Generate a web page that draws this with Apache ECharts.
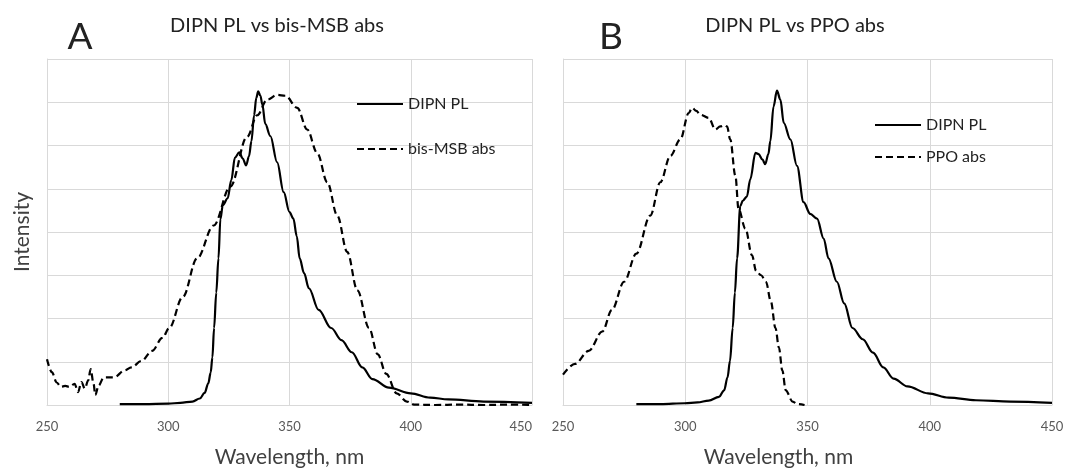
<!DOCTYPE html>
<html>
<head>
<meta charset="utf-8">
<script src="https://cdn.jsdelivr.net/npm/echarts@6/dist/echarts.min.js"></script>
<style>html,body{margin:0;padding:0;background:#fff}#c{width:1069px;height:473px}</style>
</head>
<body>
<div id="c"></div>
<script>
// ---- data (wavelength nm, intensity in arbitrary grid units) ----
const xTicks = [250, 300, 350, 400, 450];
const panelTitles = ['DIPN PL vs bis-MSB abs', 'DIPN PL vs PPO abs'];
const panelLetters = ['A', 'B'];
const seriesNames = ['DIPN PL', 'bis-MSB abs', 'DIPN PL', 'PPO abs'];

const leftPL = [[280,0.02],[290,0.02],[300,0.03],[305,0.05],[310,0.08],[313,0.15],[315,0.28],[316.5,0.5],[317.5,0.75],[318.2,1.1],[318.9,1.78],[319.8,2.6],[320.7,3.39],[321.5,4.3],[322.5,4.62],[324.5,4.78],[326,5.2],[327.5,5.72],[329.3,5.84],[330.7,5.7],[332.1,5.54],[333.3,5.75],[334.3,6.1],[335.4,6.7],[336.3,7.1],[337.1,7.25],[338,7.15],[338.8,6.95],[340,6.5],[342.1,6.22],[344.9,5.61],[347.6,4.92],[350,4.46],[351.6,4.31],[353,3.9],[354.2,3.39],[356,3.05],[358,2.7],[362,2.2],[367.2,1.78],[371.4,1.5],[375.7,1.22],[380,0.87],[384.2,0.6],[391,0.4],[400,0.27],[408,0.17],[415.5,0.13],[430,0.08],[450,0.05]];

const leftMSB = [[250,1.06],[252,0.76],[254,0.52],[255.7,0.42],[257.5,0.44],[259.2,0.42],[261.4,0.49],[262.8,0.3],[264.2,0.53],[265.6,0.38],[267,0.57],[268,0.83],[269.2,0.49],[269.9,0.23],[271.3,0.45],[273.4,0.64],[277.7,0.64],[282,0.8],[284.8,0.87],[289,1.02],[293.3,1.25],[297.6,1.55],[300.4,1.78],[306,2.5],[311.9,3.39],[318.7,4.15],[325.6,5.05],[332.5,6.2],[336.7,6.7],[340.8,7.06],[344.9,7.17],[348.3,7.15],[353.2,6.87],[357.3,6.37],[361.4,5.83],[365.6,5.15],[369.7,4.38],[373.8,3.54],[378,2.65],[382.8,1.78],[386.4,1.17],[389.9,0.72],[394.2,0.27],[398.4,0.08],[401.3,0.01],[410,0],[420,0.01],[430,0],[440,0.01],[450,0]];

const rightPL = [[280,0.02],[290,0.02],[299.8,0.04],[305,0.06],[309.6,0.1],[313.8,0.19],[315.9,0.34],[317.3,0.64],[318.3,1.02],[319.4,1.78],[320.3,2.6],[321.2,3.39],[322.5,4.6],[323.5,4.72],[325.2,4.82],[326.6,5.22],[328.7,5.83],[330,5.8],[331.5,5.68],[332.7,5.57],[334,5.8],[334.8,6.1],[336.1,6.9],[337.5,7.27],[338.9,7.06],[340.3,6.52],[343,6.14],[345.7,5.53],[348.4,4.69],[351.1,4.42],[353.9,4.31],[356.6,3.85],[358.6,3.39],[362,2.85],[365,2.35],[368.4,1.78],[372.6,1.52],[376.8,1.21],[381,0.87],[385.2,0.61],[390.9,0.43],[399.3,0.27],[407.7,0.17],[418.9,0.11],[433,0.08],[450,0.05]];

const rightPPO = [[250,0.7],[254.9,0.95],[260.5,1.25],[266.1,1.7],[270,2.2],[275,2.85],[280,3.5],[285.7,4.38],[289.8,5.15],[293.9,5.76],[298,6.14],[301.4,6.75],[302.8,6.87],[304.5,6.8],[306.2,6.71],[309.6,6.64],[312.3,6.37],[314.3,6.44],[316,6.47],[317.1,6.44],[318.4,6.14],[320.5,5.3],[321.8,4.53],[324.6,4.08],[327.3,3.46],[329,3.1],[331,3.0],[333,2.85],[335,2.4],[336.9,1.78],[338.3,1.33],[339.7,0.8],[341.1,0.34],[343.9,0.08],[346,0.02],[348.8,0]];

// ---- chart ----
const FONT = 'Lato, "Open Sans", sans-serif';
const grey = '#d9d9d9';
const chart = echarts.init(document.getElementById('c'), null, {renderer: 'canvas'});

function xAxis(gi, shiftName) {
  return {
    type: 'value', gridIndex: gi, min: xTicks[0], max: xTicks[xTicks.length - 1], interval: 50,
    axisLine: {show: true, lineStyle: {color: grey, width: 1}},
    axisTick: {show: false},
    splitLine: {show: true, lineStyle: {color: grey, width: 1}},
    axisLabel: {color: '#595959', fontSize: 13, fontFamily: FONT, margin: 15, alignMaxLabel: gi === 0 ? 'right' : 'center'},
    name: 'Wavelength, nm', nameLocation: 'middle', nameGap: 42,
    nameTextStyle: {color: '#404040', fontSize: 21, fontFamily: FONT, padding: [0, shiftName, 0, 0]}
  };
}
function yAxis(gi, withName) {
  return {
    type: 'value', gridIndex: gi, min: 0, max: 8, interval: 1,
    axisLine: {show: true, lineStyle: {color: grey, width: 1}},
    axisTick: {show: false},
    axisLabel: {show: false},
    splitLine: {show: true, lineStyle: {color: grey, width: 1}},
    name: withName ? 'Intensity' : '', nameLocation: 'middle', nameGap: 14, nameRotate: 90,
    nameTextStyle: {color: '#404040', fontSize: 21, fontFamily: FONT}
  };
}
function line(name, data, gi, dashed) {
  return {
    type: 'line', name: name, data: data, xAxisIndex: gi, yAxisIndex: gi,
    showSymbol: false, symbol: 'none', smooth: 0.35, smoothMonotone: 'x',
    lineStyle: {color: '#000', width: 2.2, type: dashed ? [7, 4] : 'solid'},
    itemStyle: {color: '#000'}, animation: false
  };
}
const legendCommon = {
  orient: 'vertical', itemWidth: 46, itemHeight: 14, selectedMode: false,
  itemStyle: {color: 'rgba(0,0,0,0)', borderWidth: 0, opacity: 0},
  textStyle: {fontFamily: FONT, fontSize: 16, color: '#222'}
};

chart.setOption({
  animation: false,
  backgroundColor: '#fff',
  title: [
    {text: panelTitles[0], left: 272, top: 11, textAlign: 'center', textStyle: {fontFamily: FONT, fontSize: 20, fontWeight: 'normal', color: '#222'}},
    {text: panelTitles[1], left: 790, top: 11, textAlign: 'center', textStyle: {fontFamily: FONT, fontSize: 20, fontWeight: 'normal', color: '#222'}},
    {text: panelLetters[0], left: 75, top: 14, textAlign: 'center', textStyle: {fontFamily: FONT, fontSize: 37, fontWeight: 'normal', color: '#222'}},
    {text: panelLetters[1], left: 606, top: 14, textAlign: 'center', textStyle: {fontFamily: FONT, fontSize: 37, fontWeight: 'normal', color: '#222'}}
  ],
  legend: [
    Object.assign({seriesIndex: [0, 1], data: [seriesNames[0], seriesNames[1]], left: 351, top: 91, itemGap: 29}, legendCommon),
    Object.assign({data: [seriesNames[3]], left: 869, top: 144}, legendCommon),
    Object.assign({data: [seriesNames[2]], left: 869, top: 112}, legendCommon)
  ],
  grid: [
    {left: 47, right: 1069 - 532, top: 59, bottom: 473 - 408},
    {left: 563, right: 1069 - 1052, top: 59, bottom: 473 - 408}
  ],
  xAxis: [xAxis(0, 0), xAxis(1, 58)],
  yAxis: [yAxis(0, true), yAxis(1, false)],
  series: [
    line(seriesNames[0], leftPL, 0, false),
    line(seriesNames[1], leftMSB, 0, true),
    line(seriesNames[2], rightPL, 1, false),
    line(seriesNames[3], rightPPO, 1, true)
  ]
});
</script>
</body>
</html>
